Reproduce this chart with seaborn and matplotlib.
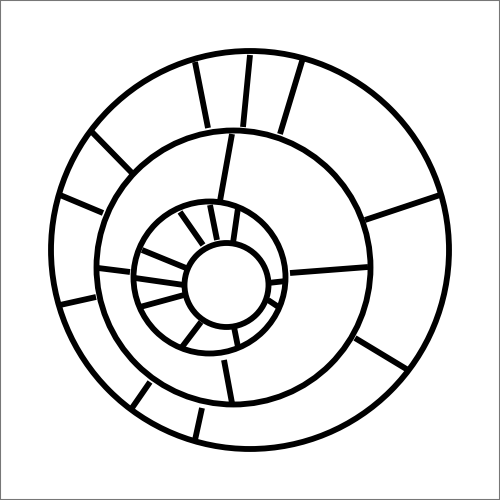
import matplotlib
matplotlib.use("Agg")
import matplotlib.pyplot as plt
import seaborn as sns
from matplotlib.patches import Circle, Rectangle

# ===== DATA (pixel space, y down) =====
# rings: outer, middle, inner ring, core
circle_x = [250, 233.5, 209.5, 226.5]
circle_y = [250, 267.5, 277.5, 285]
circle_r = [199, 137, 76, 42]

# outer band dividers
outer_x0 = [195, 250, 303, 440, 408, 195, 132, 60, 60, 90]
outer_y0 = [62, 55, 58, 195, 370, 440, 408, 305, 195, 130]
outer_x1 = [208, 243, 280, 365, 355, 202, 150, 96, 103, 132]
outer_y1 = [128, 127, 134, 220, 338, 408, 382, 297, 213, 173]

# middle band dividers
mid_x0 = [232, 368, 232, 98]
mid_y0 = [134, 267, 403, 268]
mid_x1 = [220, 290, 224, 130]
mid_y1 = [201, 273, 360, 272]

# inner band dividers
inn_x0 = [180, 210, 238, 142, 135, 140, 182, 238, 286, 280]
inn_y0 = [212, 205, 208, 250, 278, 307, 347, 347, 281, 308]
inn_x1 = [203, 217, 233, 186, 184, 184, 201, 234, 268, 268]
inn_y1 = [245, 240, 243, 268, 285, 295, 322, 327, 283, 300]

sns.set_style("white")
fig = plt.figure(figsize=(5, 5), dpi=100)
ax = fig.add_axes([0, 0, 1, 1])
lw = 4.2

for cx, cy, r in zip(circle_x, circle_y, circle_r):
    ax.add_patch(Circle((cx, cy), r, fill=False, edgecolor="black", lw=lw))

for x0s, y0s, x1s, y1s in [(outer_x0, outer_y0, outer_x1, outer_y1),
                           (mid_x0, mid_y0, mid_x1, mid_y1),
                           (inn_x0, inn_y0, inn_x1, inn_y1)]:
    for a, b, c, d in zip(x0s, y0s, x1s, y1s):
        ax.plot([a, c], [b, d], color="black", lw=lw, solid_capstyle="butt")

ax.set_xlim(0, 500)
ax.set_ylim(500, 0)
ax.set_aspect("equal")
ax.axis("off")

fig.patches.append(Rectangle((0, 0), 1, 1, transform=fig.transFigure,
                             fill=False, edgecolor="#777777", lw=1.5))
fig.savefig("out.png", dpi=100)
